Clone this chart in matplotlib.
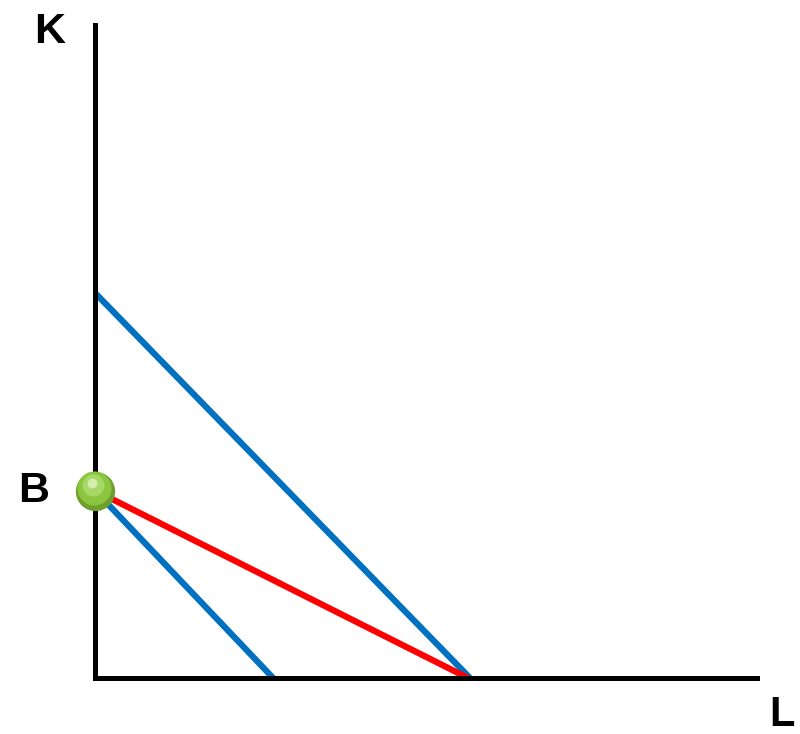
import matplotlib.pyplot as plt

# isocost lines (L intercept, K intercept)
blue_high = ([0, 10.0], [10.27, 0])
blue_low = ([0, 4.75], [5.0, 0])
red_line = ([0, 9.95], [5.0, 0])
point_b = (0, 5.0)

fig = plt.figure(figsize=(8, 7.34), dpi=100)
ax = fig.add_axes([95 / 800, 56 / 734, 662 / 800, 653 / 734])
ax.set_xlim(0, 662 / 37.5)
ax.set_ylim(0, 653 / 37.5)

ax.plot(*blue_high, color='#0070c0', lw=4.5, solid_capstyle='butt')
ax.plot(*blue_low, color='#0070c0', lw=4.5, solid_capstyle='butt')
ax.plot(*red_line, color='#ff0000', lw=4.5, solid_capstyle='butt')

# green ball at B
ax.scatter(*point_b, s=800, color='#6f9e2c', linewidths=0, zorder=5, clip_on=False)
ax.scatter(point_b[0] - 0.03, point_b[1] + 0.06, s=600, color='#8cc63f', linewidths=0, zorder=6, clip_on=False)
ax.scatter(point_b[0] - 0.06, point_b[1] + 0.14, s=250, color='#a6d867', linewidths=0, zorder=7, clip_on=False)
ax.scatter(point_b[0] - 0.08, point_b[1] + 0.2, s=50, color='#d4efac', linewidths=0, zorder=8, clip_on=False)

for side in ['top', 'right']:
    ax.spines[side].set_visible(False)
for side in ['left', 'bottom']:
    ax.spines[side].set_linewidth(3.6)
    ax.spines[side].set_color('black')
ax.set_xticks([])
ax.set_yticks([])

fig.text(50 / 800, 1 - 32 / 734, 'K', fontsize=31, fontweight='bold', ha='center', va='center', family='Liberation Sans')
fig.text(34 / 800, 1 - 491 / 734, 'B', fontsize=31, fontweight='bold', ha='center', va='center', family='Liberation Sans')
fig.text(782 / 800, 1 - 715 / 734, 'L', fontsize=30, fontweight='bold', ha='center', va='center', family='Liberation Sans')

fig.savefig('out.png')
